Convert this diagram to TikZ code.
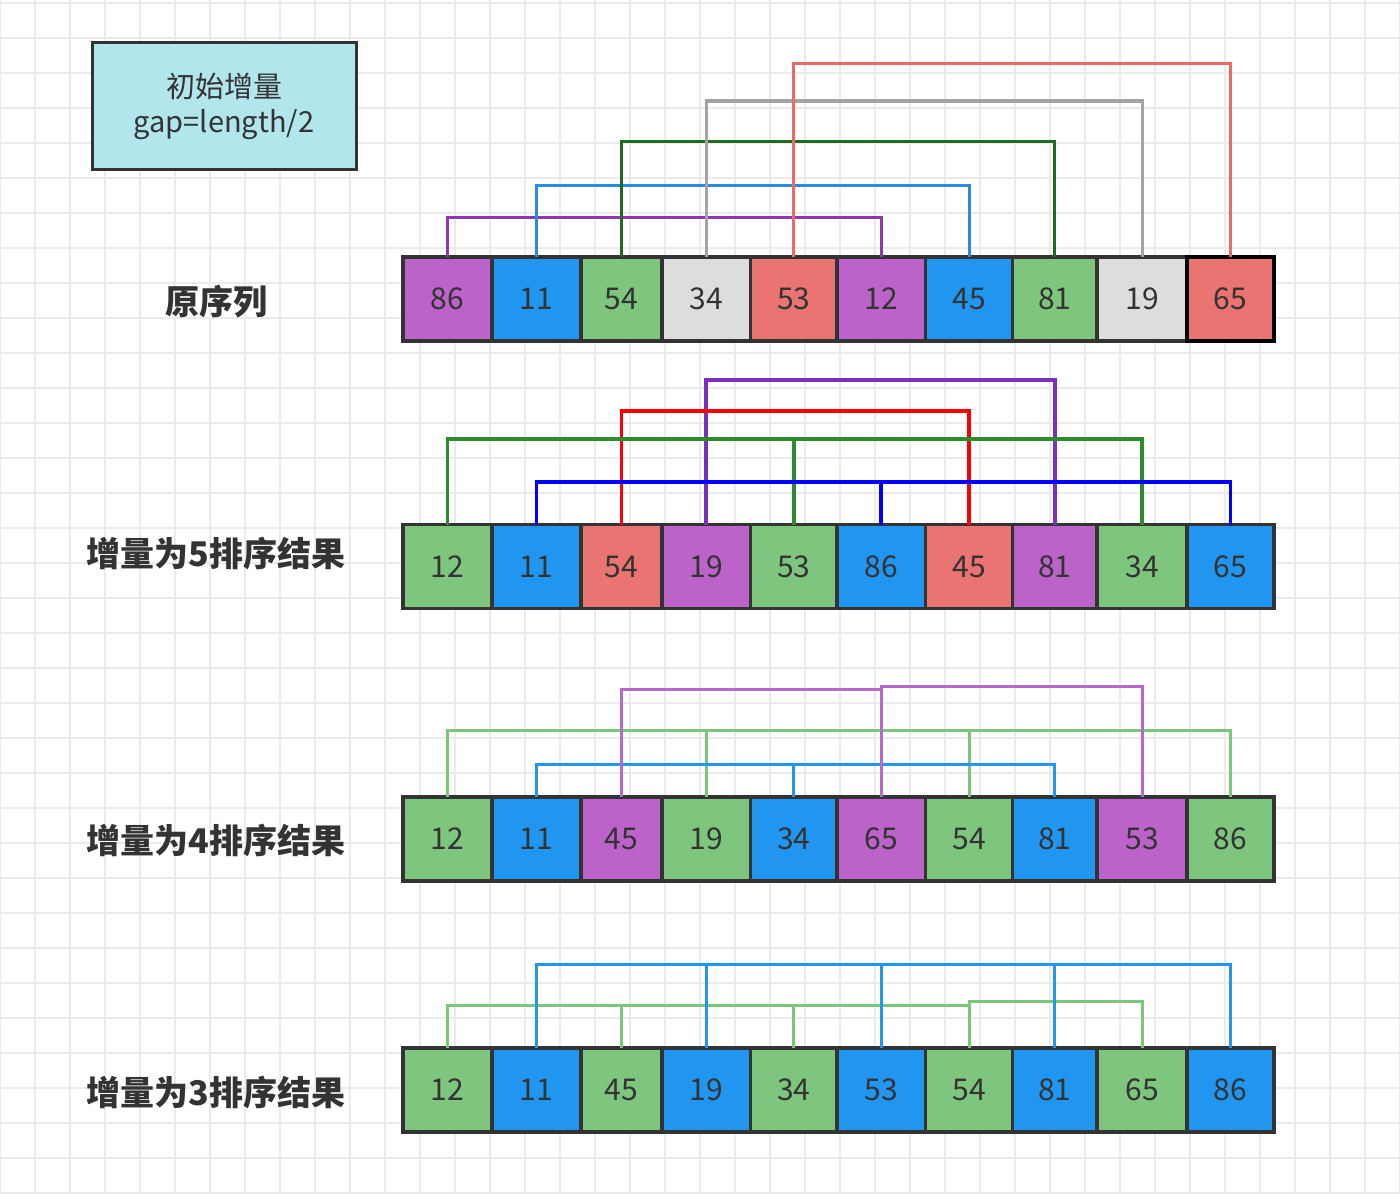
\documentclass[tikz,border=0pt]{standalone}
\usepackage{fontspec}
\setmainfont{Noto Sans CJK SC}
\definecolor{cpur}{HTML}{BB63C9}
\definecolor{cblu}{HTML}{2196F0}
\definecolor{cgrn}{HTML}{7EC57E}
\definecolor{cgry}{HTML}{DDDDDD}
\definecolor{csal}{HTML}{EA7471}
\definecolor{cborder}{HTML}{333333}
\definecolor{ctext}{HTML}{333333}
\definecolor{cgrid}{HTML}{EBEBEB}
\definecolor{ccyan}{HTML}{B0E6EC}
% connector colours
\definecolor{lpurA}{HTML}{8E35B8}
\definecolor{lbluA}{HTML}{2A8AE6}
\definecolor{lgrnA}{HTML}{1F6B1F}
\definecolor{lgryA}{HTML}{A3A3A3}
\definecolor{lsalA}{HTML}{EA6B66}
\definecolor{lpurB}{HTML}{7B2FBE}
\definecolor{lredB}{HTML}{FF0000}
\definecolor{lgrnB}{HTML}{2E8B2E}
\definecolor{lbluB}{HTML}{0000FF}
\definecolor{lgrnC}{HTML}{7CC67A}
\definecolor{lbluC}{HTML}{2196F3}
\definecolor{lpurC}{HTML}{B866D0}
\def\bounds{{403,492,581,662,750.5,837,925.5,1012.5,1097,1187,1274}}
\begin{document}
\begin{tikzpicture}[x=0.5pt,y=-0.5pt,
  cell/.style={draw=cborder, line width=1.7pt, minimum height=42pt,
    inner sep=0pt, outer sep=0pt, font=\fontsize{15}{18}\selectfont, text=ctext},
  lbl/.style={font=\fontsize{17}{20}\selectfont\bfseries, text=ctext},
  titlebox/.style={draw=cborder, line width=1.5pt, fill=ccyan, minimum width=132pt,
    minimum height=63pt, align=center, text=ctext, inner sep=0pt,
    font=\fontsize{14.5}{17.5}\selectfont},
  conn/.style={line width=1.5pt},
  connthick/.style={line width=1.8pt}]
\useasboundingbox (0,0) rectangle (1400,1193);
\fill[white] (0,0) rectangle (1400,1193);
\foreach \x in {0,35,...,1400} \draw[cgrid, line width=0.6pt] (\x,0) -- (\x,1193);
\foreach \y in {3,38,...,1193} \draw[cgrid, line width=0.6pt] (0,\y) -- (1400,\y);

\node[titlebox] (title) at (224,106) {初始增量\\gap=length/2};

\node[lbl] (l1) at (216,302) {原序列};
\node[lbl] (l2) at (216,553) {增量为5排序结果};
\node[lbl] (l3) at (216,840) {增量为4排序结果};
\node[lbl] (l4) at (216,1092) {增量为3排序结果};

% rows
\foreach \row/\yc/\vals in {
  a/299/{86/cpur,11/cblu,54/cgrn,34/cgry,53/csal,12/cpur,45/cblu,81/cgrn,19/cgry,65/csal},
  b/566.5/{12/cgrn,11/cblu,54/csal,19/cpur,53/cgrn,86/cblu,45/csal,81/cpur,34/cgrn,65/cblu},
  c/839/{12/cgrn,11/cblu,45/cpur,19/cgrn,34/cblu,65/cpur,54/cgrn,81/cblu,53/cpur,86/cgrn},
  d/1090/{12/cgrn,11/cblu,45/cgrn,19/cblu,34/cgrn,53/cblu,54/cgrn,81/cblu,65/cgrn,86/cblu}} {
  \foreach \v/\c [count=\i from 0] in \vals {
    \pgfmathsetmacro{\lft}{\bounds[\i]}
    \pgfmathsetmacro{\rgt}{\bounds[\i+1]}
    \node[cell, fill=\c, minimum width={(\rgt-\lft)*0.5pt}] (\row\i) at ({(\lft+\rgt)/2},\yc) {\v};
  }
}
\draw[black, line width=1.9pt] (a9.north west) rectangle (a9.south east);

% heights
\coordinate (hA1) at (0,217);
\coordinate (hA2) at (0,185);
\coordinate (hA3) at (0,141);
\coordinate (hA4) at (0,101);
\coordinate (hA5) at (0,64);
\coordinate (hB1) at (0,380);
\coordinate (hB2) at (0,411);
\coordinate (hB3) at (0,439);
\coordinate (hB4) at (0,482);
\coordinate (hC1) at (0,730);
\coordinate (hC2) at (0,764);
\coordinate (hC3) at (0,689);
\coordinate (hC4) at (0,686);
\coordinate (hD1) at (0,964);
\coordinate (hD2) at (0,1005);
\coordinate (hD3) at (0,1001);

% row 1 connectors
\draw[conn, lpurA] (a0.north) -- (a0.north |- hA1) -| (a5.north);
\draw[conn, lbluA] (a1.north) -- (a1.north |- hA2) -| (a6.north);
\draw[conn, lgrnA] (a2.north) -- (a2.north |- hA3) -| (a7.north);
\draw[conn, lgryA] (a3.north) -- (a3.north |- hA4) -| (a8.north);
\draw[conn, lsalA] (a4.north) -- (a4.north |- hA5) -| (a9.north);

% row 2 connectors
\draw[connthick, lpurB] (b3.north) -- (b3.north |- hB1) -| (b7.north);
\draw[connthick, lredB] (b2.north) -- (b2.north |- hB2) -| (b6.north);
\draw[connthick, lgrnB] (b0.north) -- (b0.north |- hB3) -| (b8.north);
\draw[connthick, lgrnB] (b4.north) -- (b4.north |- hB3);
\draw[connthick, lbluB] (b1.north) -- (b1.north |- hB4) -| (b9.north);
\draw[connthick, lbluB] (b5.north) -- (b5.north |- hB4);

% row 3 connectors
\draw[conn, lgrnC] (c0.north) -- (c0.north |- hC1) -| (c9.north);
\draw[conn, lgrnC] (c3.north) -- (c3.north |- hC1);
\draw[conn, lgrnC] (c6.north) -- (c6.north |- hC1);
\draw[conn, lbluC] (c1.north) -- (c1.north |- hC2) -| (c7.north);
\draw[conn, lbluC] (c4.north) -- (c4.north |- hC2);
\draw[conn, lpurC] (c2.north) -- (c2.north |- hC3) -- (c5.north |- hC3);
\draw[conn, lpurC] (c5.north) -- (c5.north |- hC4) -| (c8.north);

% row 4 connectors
\draw[conn, lgrnC] (d0.north) -- (d0.north |- hD2) -- (d6.north |- hD2);
\draw[conn, lgrnC] (d2.north) -- (d2.north |- hD2);
\draw[conn, lgrnC] (d4.north) -- (d4.north |- hD2);
\draw[conn, lgrnC] (d6.north) -- (d6.north |- hD3) -| (d8.north);
\draw[conn, lbluC] (d1.north) -- (d1.north |- hD1) -| (d9.north);
\draw[conn, lbluC] (d3.north) -- (d3.north |- hD1);
\draw[conn, lbluC] (d5.north) -- (d5.north |- hD1);
\draw[conn, lbluC] (d7.north) -- (d7.north |- hD1);
\end{tikzpicture}
\end{document}
